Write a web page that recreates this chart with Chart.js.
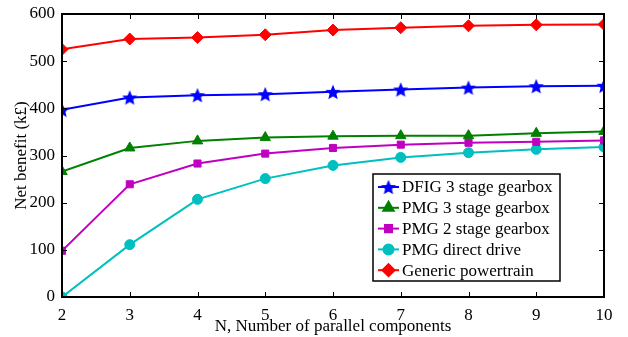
<!DOCTYPE html>
<html>
<head>
<meta charset="utf-8">
<script src="https://cdn.jsdelivr.net/npm/chart.js@4/dist/chart.umd.min.js"></script>
<style>
  html, body { margin: 0; padding: 0; background: #fff; }
  #wrap { width: 628px; height: 337px; }
</style>
</head>
<body>
<div id="wrap"><canvas id="netChart"></canvas></div>
<script>
// data
const nValues = [2, 3, 4, 5, 6, 7, 8, 9, 10];
const dfig3 = [397, 423, 428, 430, 435, 440, 444, 447, 448];
const pmg3 = [266, 316, 331, 338, 341, 342, 342, 347, 351];
const pmg2 = [98, 239, 283, 304, 316, 323, 327, 329, 332];
const pmgDirect = [0, 111, 207, 251, 279, 296, 306, 313, 318];
const generic = [525, 547, 550, 556, 566, 571, 575, 577, 578];
const seriesNames = ['DFIG 3 stage gearbox', 'PMG 3 stage gearbox', 'PMG 2 stage gearbox', 'PMG direct drive', 'Generic powertrain'];
const yTicks = [0, 100, 200, 300, 400, 500, 600];

const FONT = '"Liberation Serif", "DejaVu Serif", serif';

// filled five point star for the DFIG series
function makeStar(r, color) {
    const c = document.createElement('canvas');
    c.width = c.height = r * 2 + 2;
    const g = c.getContext('2d');
    g.fillStyle = color;
    g.beginPath();
    for (let i = 0; i < 10; i++) {
        const rad = i % 2 === 0 ? r : r * 0.45;
        const a = -Math.PI / 2 + i * Math.PI / 5;
        g.lineTo(c.width / 2 + rad * Math.cos(a), c.height / 2 + rad * Math.sin(a) + 0.8);
    }
    g.closePath();
    g.fill();
    return c;
}
const star = makeStar(8, '#0000ff');

function toPoints(arr) {
    return arr.map((v, i) => ({ x: nValues[i], y: v }));
}

const styles = [
    { color: '#0000ff', point: star, radius: 7 },
    { color: '#008000', point: 'triangle', radius: 6 },
    { color: '#c000c0', point: 'rect', radius: 5 },
    { color: '#00bfbf', point: 'circle', radius: 5 },
    { color: '#ff0000', point: 'rectRot', radius: 6 }
];
const allSeries = [dfig3, pmg3, pmg2, pmgDirect, generic];

const datasets = allSeries.map((arr, i) => ({
    label: seriesNames[i],
    data: toPoints(arr),
    borderColor: styles[i].color,
    backgroundColor: styles[i].color,
    borderWidth: 2,
    pointStyle: styles[i].point,
    pointRadius: styles[i].radius,
    pointBorderWidth: 1,
    tension: 0
}));

// inward ticks on all four sides + frame
const frameTicks = {
    id: 'frameTicks',
    afterDraw(chart) {
        const { ctx, chartArea: a, scales } = chart;
        ctx.save();
        ctx.strokeStyle = '#000';
        ctx.lineWidth = 1;
        const len = 5;
        ctx.beginPath();
        nValues.forEach(v => {
            const px = Math.round(scales.x.getPixelForValue(v)) + 0.5;
            ctx.moveTo(px, a.bottom); ctx.lineTo(px, a.bottom - len);
            ctx.moveTo(px, a.top); ctx.lineTo(px, a.top + len);
        });
        yTicks.forEach(v => {
            const py = Math.round(scales.y.getPixelForValue(v)) + 0.5;
            ctx.moveTo(a.left, py); ctx.lineTo(a.left + len, py);
            ctx.moveTo(a.right, py); ctx.lineTo(a.right - len, py);
        });
        ctx.stroke();
        ctx.lineWidth = 2;
        ctx.strokeRect(a.left, a.top, a.right - a.left, a.bottom - a.top);
        ctx.restore();
    }
};

// legend box inside the plot, lower right
const insideLegend = {
    id: 'insideLegend',
    afterDraw(chart) {
        const ctx = chart.ctx;
        const bx = 373, by = 174, bw = 187, bh = 107;
        ctx.save();
        ctx.fillStyle = '#fff';
        ctx.fillRect(bx, by, bw, bh);
        ctx.strokeStyle = '#000';
        ctx.lineWidth = 1.5;
        ctx.strokeRect(bx, by, bw, bh);
        ctx.font = '17px ' + FONT;
        ctx.textBaseline = 'middle';
        chart.data.datasets.forEach((ds, i) => {
            const y = by + 13 + i * 20.8;
            ctx.strokeStyle = ds.borderColor;
            ctx.lineWidth = 2;
            ctx.beginPath();
            ctx.moveTo(bx + 5, y);
            ctx.lineTo(bx + 26, y);
            ctx.stroke();
            ctx.fillStyle = ds.backgroundColor;
            Chart.helpers.drawPoint(ctx, {
                pointStyle: ds.pointStyle,
                radius: ds.pointRadius,
                borderWidth: 1
            }, bx + 15.5, y);
            ctx.fillStyle = '#000';
            ctx.fillText(ds.label, bx + 29, y + 1);
        });
        ctx.restore();
    }
};

const ctx = document.getElementById('netChart').getContext('2d');
const chart = new Chart(ctx, {
    type: 'line',
    data: { datasets: datasets },
    options: {
        responsive: true,
        maintainAspectRatio: false,
        animation: false,
        layout: { padding: { top: 14, right: 24, left: 0, bottom: 0 } },
        plugins: {
            legend: { display: false },
            tooltip: { enabled: false }
        },
        scales: {
            x: {
                type: 'linear',
                min: 2,
                max: 10,
                grid: { display: false },
                border: { display: false },
                ticks: {
                    stepSize: 1,
                    color: '#000',
                    padding: 0,
                    font: { family: FONT, size: 17 }
                },
                title: {
                    display: true,
                    text: 'N, Number of parallel components',
                    color: '#000',
                    padding: { top: -3, bottom: 0 },
                    font: { family: FONT, size: 17 }
                },
                afterFit(scale) { scale.height = 40; }
            },
            y: {
                min: 0,
                max: 600,
                grid: { display: false },
                border: { display: false },
                ticks: {
                    stepSize: 100,
                    color: '#000',
                    padding: -1,
                    font: { family: FONT, size: 17 }
                },
                title: {
                    display: true,
                    text: 'Net benefit (k£)',
                    color: '#000',
                    padding: { top: 11, bottom: 0 },
                    font: { family: FONT, size: 17 }
                },
                afterFit(scale) { scale.width = 62; }
            }
        }
    },
    plugins: [frameTicks, insideLegend]
});
</script>
</body>
</html>
